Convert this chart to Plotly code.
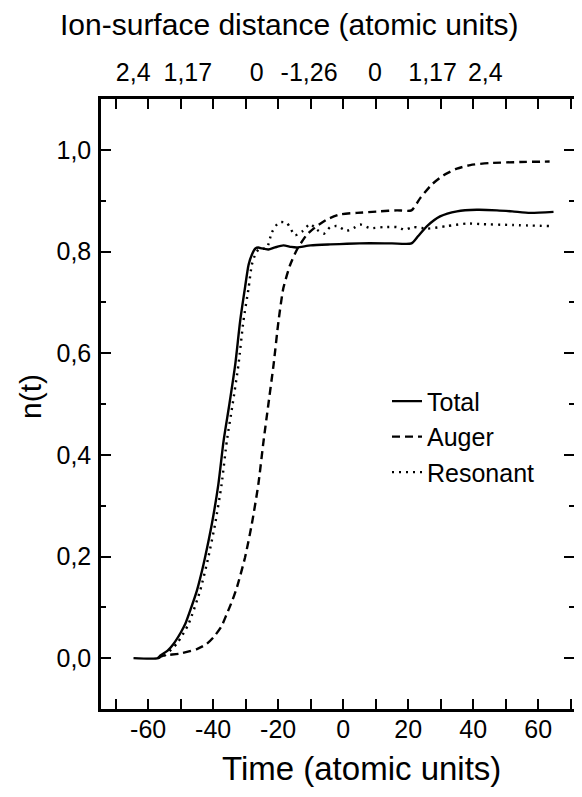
import plotly.graph_objects as go

# ---- data ----
total_t = [-64.5, -57, -56.3, -54, -52.2, -50, -48.6, -47, -45, -43.5, -42.5, -40.4, -38.4, -36.8, -35,
           -33.2, -31.7, -30.2, -29.1, -28, -27, -26.1, -25, -23, -21, -18.4, -16, -14.2, -10, -4, 5,
           15, 21, 23, 25.8, 29.8, 35, 41.1, 47.3, 52, 57.5, 64.7]
total_n = [0, 0, 0.005, 0.015, 0.028, 0.05, 0.067, 0.095, 0.133, 0.17, 0.198, 0.264, 0.342, 0.427, 0.5,
           0.578, 0.663, 0.729, 0.774, 0.795, 0.806, 0.808, 0.806, 0.804, 0.808, 0.812, 0.809, 0.808, 0.812,
           0.814, 0.816, 0.816, 0.816, 0.83, 0.85, 0.869, 0.879, 0.882, 0.881, 0.879, 0.876, 0.878]

auger_t = [-57, -55.3, -50.2, -45, -42, -39.9, -37.5, -35.8, -34, -32.7, -30.2, -28.1, -26.1, -24.5, -23,
           -21.4, -19.9, -18.4, -16.3, -14.2, -11.2, -8.1, -5, -0.9, 4.2, 11.4, 16.5, 21, 23.7, 27.3,
           30.9, 35, 39.1, 45.2, 54.5, 63.5]
auger_n = [0, 0.005, 0.009, 0.018, 0.028, 0.041, 0.062, 0.087, 0.115, 0.139, 0.198, 0.264, 0.342, 0.427,
           0.5, 0.578, 0.663, 0.728, 0.774, 0.804, 0.833, 0.85, 0.863, 0.873, 0.876, 0.879, 0.881, 0.881,
           0.905, 0.932, 0.95, 0.963, 0.97, 0.974, 0.976, 0.977]

reson_t = [-57, -55, -51, -47.6, -44, -41.5, -39.4, -37.4, -35.8, -34, -32.2, -30.7, -29.1, -28.1, -27,
           -26, -23.5, -22, -20.4, -19.4, -17.3, -14.8, -12.5, -10.2, -8.1, -6, -4, -2, 1.1, 3.2, 5.2,
           8.3, 12.4, 16.5, 19, 21.6, 25.8, 31.9, 38, 42, 52.4, 63.7]
reson_n = [0, 0.005, 0.03, 0.067, 0.133, 0.198, 0.264, 0.342, 0.427, 0.5, 0.578, 0.663, 0.728, 0.774,
           0.795, 0.804, 0.807, 0.837, 0.853, 0.858, 0.856, 0.832, 0.84, 0.854, 0.843, 0.835, 0.848,
           0.85, 0.841, 0.846, 0.853, 0.846, 0.848, 0.848, 0.843, 0.848, 0.845, 0.85, 0.855, 0.854,
           0.852, 0.85]

x_ticks = [-60, -40, -20, 0, 20, 40, 60]
x_ticktext = ["-60", "-40", "-20", "0", "20", "40", "60"]
y_ticks = [0.0, 0.2, 0.4, 0.6, 0.8, 1.0]
y_ticktext = ["0,0", "0,2", "0,4", "0,6", "0,8", "1,0"]
top_pos = [-64.6, -47.8, -26.6, -10.5, 9.8, 27.5, 43.7]
top_text = ["2,4", "1,17", "0", "-1,26", "0", "1,17", "2,4"]

FONT = "Liberation Sans, Arial, Helvetica, sans-serif"
XR = [-74.5, 71.0]
YR = [-0.1, 1.1]
PW = 473  # plot width in px
PH = 610  # plot height in px

fig = go.Figure()
fig.add_trace(go.Scatter(x=total_t, y=total_n, mode="lines", name="Total",
                         line=dict(color="black", width=2.4, shape="spline", smoothing=0.6)))
fig.add_trace(go.Scatter(x=auger_t, y=auger_n, mode="lines", name="Auger",
                         line=dict(color="black", width=2.4, dash="8px,5px", shape="spline", smoothing=0.6)))
fig.add_trace(go.Scatter(x=reson_t, y=reson_n, mode="lines", name="Resonant",
                         line=dict(color="black", width=2.4, dash="2px,5px", shape="spline", smoothing=0.6)))
# helper empty traces so the secondary axes exist
fig.add_trace(go.Scatter(x=[], y=[], xaxis="x2", yaxis="y", showlegend=False, hoverinfo="skip"))
fig.add_trace(go.Scatter(x=[], y=[], xaxis="x", yaxis="y2", showlegend=False, hoverinfo="skip"))

# page body has an 8px margin; keep the figure inside the window (566+16 x 781+16)
fig.update_layout(
    width=566, height=781,
    margin=dict(l=93, r=0, t=91, b=80),
    paper_bgcolor="white", plot_bgcolor="white",
    font=dict(family=FONT, color="black", size=25),
    showlegend=True,
    legend=dict(x=286 / PW, y=0.542, xanchor="left", yanchor="top", bgcolor="rgba(0,0,0,0)",
                font=dict(size=25, family=FONT), tracegroupgap=0),
    xaxis=dict(range=XR, tickvals=x_ticks, ticktext=x_ticktext, ticks="inside", ticklen=10, tickwidth=2,
               tickcolor="black", showline=True, linewidth=2.5, linecolor="black", mirror="allticks",
               showgrid=False, zeroline=False, ticklabelstandoff=-4,
               minor=dict(dtick=10, tick0=0, ticks="inside", ticklen=5, tickwidth=2, tickcolor="black",
                          showgrid=False),
               tickfont=dict(size=25)),
    xaxis2=dict(range=XR, overlaying="x", side="top", anchor="y", tickvals=top_pos, ticktext=top_text,
                ticks="", showline=False, showgrid=False, zeroline=False, ticklabelstandoff=12,
                tickfont=dict(size=25)),
    yaxis=dict(range=YR, tickvals=y_ticks, ticktext=y_ticktext, ticks="inside", ticklen=10, tickwidth=2,
               tickcolor="black", showline=True, linewidth=2.5, linecolor="black", mirror=False,
               showgrid=False, zeroline=False, ticklabelstandoff=2,
               minor=dict(dtick=0.1, tick0=0, ticks="inside", ticklen=5, tickwidth=2, tickcolor="black",
                          showgrid=False),
               tickfont=dict(size=25)),
    yaxis2=dict(range=YR, overlaying="y", side="right", anchor="x", tickvals=y_ticks, ticks="inside",
                ticklen=10, tickwidth=2, tickcolor="black", showticklabels=False, showline=False,
                showgrid=False, zeroline=False,
                minor=dict(dtick=0.1, tick0=0, ticks="inside", ticklen=5, tickwidth=2, tickcolor="black",
                           showgrid=False)),
    annotations=[
        dict(text="Ion-surface distance (atomic units)", xref="paper", yref="paper",
             x=(289 - 101) / PW, y=1 + (99 - 25) / PH, xanchor="center", yanchor="middle",
             showarrow=False, borderpad=0, font=dict(size=30, family=FONT)),
        dict(text="Time (atomic units)", xref="paper", yref="paper",
             x=(361 - 101) / PW, y=-(788 - 709) / PH, xanchor="center", yanchor="bottom",
             showarrow=False, borderpad=0, font=dict(size=33, family=FONT)),
        dict(text="n(t)", xref="paper", yref="paper", textangle=-90,
             x=-(101 - 30) / PW, y=(709 - 397) / PH, xanchor="center", yanchor="middle",
             showarrow=False, font=dict(size=30, family=FONT)),
    ],
)

fig.write_html("out.html")
